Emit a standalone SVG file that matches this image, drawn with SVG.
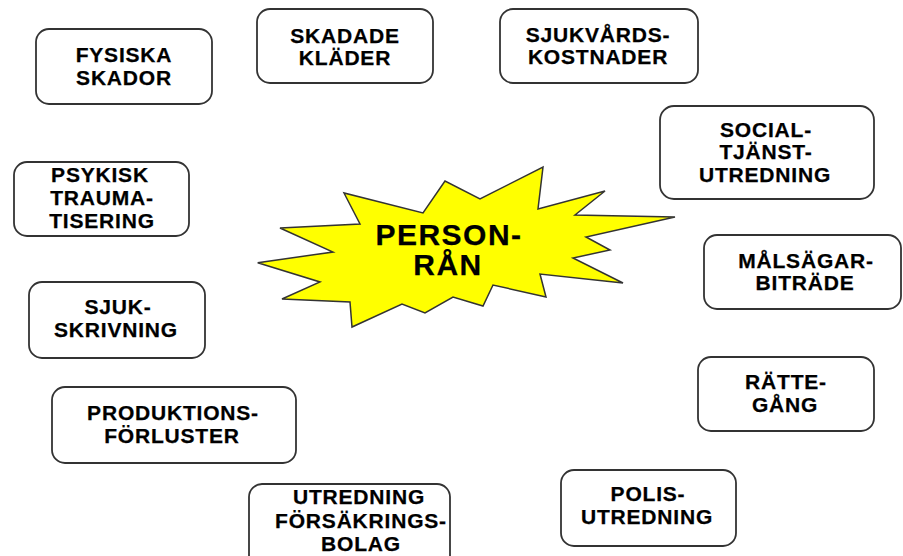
<svg xmlns="http://www.w3.org/2000/svg" width="903" height="556" viewBox="0 0 903 556">
<style>
.box{fill:#fff;stroke:#333;stroke-width:1.8}
.t{font-family:"Liberation Sans",Arial,sans-serif;font-weight:bold;font-size:21px;letter-spacing:0.8px;fill:#000;stroke:#000;stroke-width:0.25;text-anchor:middle}
.big{font-size:30px;letter-spacing:1.5px}
.star{fill:#ffff00;stroke:#333;stroke-width:1.5;stroke-linejoin:miter}
</style>
<rect width="903" height="556" fill="#fff"/>
<g id="connectors"></g>
<g id="center">
<polygon class="star" points="257.7,262.7 333,252 280,228 360,224 344,193 423,213 445,181 480,199 543,167 538,209 605,191 575,215 675,217 586,237 610,250 573,258 623,283 540,274 546,297 493,285 483,306 453,297 425,313 402,304 352,327 350,302 282,299 320,282"/>
<text class="t big" x="449" y="245">PERSON-</text>
<text class="t big" x="448" y="275">RÅN</text>
</g>
<g id="fysiska">
<rect class="box" x="36" y="29" width="176" height="75" rx="13"/>
<text class="t" x="124" y="62">FYSISKA</text>
<text class="t" x="124" y="85">SKADOR</text>
</g>
<g id="skadade">
<rect class="box" x="257" y="9" width="176" height="74" rx="13"/>
<text class="t" x="345" y="43">SKADADE</text>
<text class="t" x="345" y="65">KLÄDER</text>
</g>
<g id="sjukvard">
<rect class="box" x="500" y="9" width="198" height="74" rx="13"/>
<text class="t" x="598" y="42">SJUKVÅRDS-</text>
<text class="t" x="598" y="64">KOSTNADER</text>
</g>
<g id="social">
<rect class="box" x="660" y="106" width="214" height="93" rx="14"/>
<text class="t" x="766" y="137">SOCIAL-</text>
<text class="t" x="766" y="159">TJÄNST-</text>
<text class="t" x="765" y="182">UTREDNING</text>
</g>
<g id="malsagar">
<rect class="box" x="704" y="235" width="197" height="74" rx="13"/>
<text class="t" x="806" y="268">MÅLSÄGAR-</text>
<text class="t" x="805" y="290">BITRÄDE</text>
</g>
<g id="rattegang">
<rect class="box" x="698" y="357" width="176" height="74" rx="13"/>
<text class="t" x="786" y="389">RÄTTE-</text>
<text class="t" x="785" y="412">GÅNG</text>
</g>
<g id="polis">
<rect class="box" x="561" y="470" width="175" height="76" rx="13"/>
<text class="t" x="648" y="501">POLIS-</text>
<text class="t" x="647" y="524">UTREDNING</text>
</g>
<g id="forsakring">
<rect class="box" x="249" y="484" width="201" height="90" rx="13"/>
<text class="t" x="359" y="504">UTREDNING</text>
<text class="t" x="361" y="528">FÖRSÄKRINGS-</text>
<text class="t" x="361" y="551">BOLAG</text>
</g>
<g id="produktion">
<rect class="box" x="52" y="387" width="244" height="76" rx="13"/>
<text class="t" x="173" y="420">PRODUKTIONS-</text>
<text class="t" x="172" y="443">FÖRLUSTER</text>
</g>
<g id="sjukskrivning">
<rect class="box" x="29" y="282" width="176" height="76" rx="13"/>
<text class="t" x="118" y="314">SJUK-</text>
<text class="t" x="116" y="337">SKRIVNING</text>
</g>
<g id="psykisk">
<rect class="box" x="14" y="162" width="175" height="74" rx="13"/>
<text class="t" x="100" y="182">PSYKISK</text>
<text class="t" x="102" y="205">TRAUMA-</text>
<text class="t" x="102" y="228">TISERING</text>
</g>
</svg>
